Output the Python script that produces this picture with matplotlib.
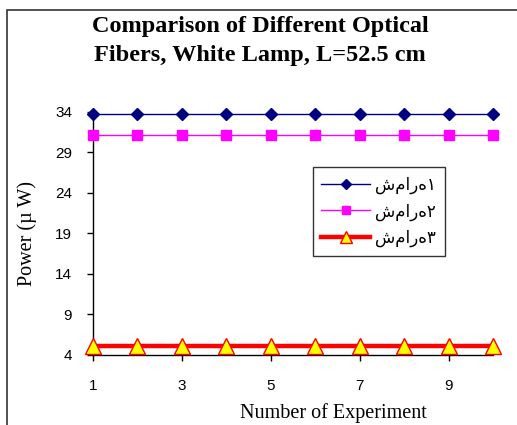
import matplotlib
matplotlib.use("Agg")
import matplotlib.pyplot as plt
from matplotlib.patches import Rectangle

# data
experiments = [1, 2, 3, 4, 5, 6, 7, 8, 9, 10]
fiber1 = [33.8, 33.8, 33.8, 33.8, 33.8, 33.8, 33.8, 33.8, 33.8, 33.8]
fiber2 = [31.2, 31.2, 31.2, 31.2, 31.2, 31.2, 31.2, 31.2, 31.2, 31.2]
fiber3 = [5.1, 5.1, 5.1, 5.1, 5.1, 5.1, 5.1, 5.1, 5.1, 5.1]
labels = ["شماره۱", "شماره۲", "شماره۳"]
xticks = [1, 3, 5, 7, 9]
yticks = [4, 9, 14, 19, 24, 29, 34]

W, H = 517, 425
fig = plt.figure(figsize=(W / 100, H / 100), dpi=100)

# outer chart border (right/bottom edges fall outside the picture)
fig.patches.append(Rectangle((7 / W, -0.05), 1.2, (H - 10) / H + 0.05,
                             transform=fig.transFigure, fill=False,
                             edgecolor='#333333', linewidth=1.2))

ax = fig.add_axes([93 / W, (H - 354.5) / H, 400 / W, 242.5 / H])

ax.plot(experiments, fiber1, color='#000080', linewidth=1, marker='D',
        markersize=6.5, label=labels[0], clip_on=False, zorder=4)
ax.plot(experiments, fiber2, color='#FF00FF', linewidth=1, marker='s',
        markersize=7.5, label=labels[1], clip_on=False, zorder=4)
ax.plot(experiments, fiber3, color='#FF0000', linewidth=3.2, marker='^',
        markersize=11, markerfacecolor='#FFFF00', markeredgecolor='#FF0000',
        markeredgewidth=1, label=labels[2], clip_on=False, zorder=4)

ax.set_xlim(1, 10)
ax.set_ylim(4, 34)
ax.set_xticks(xticks)
ax.set_yticks(yticks)
for s in ['top', 'right']:
    ax.spines[s].set_visible(False)
for s in ['left', 'bottom']:
    ax.spines[s].set_linewidth(1)
    ax.spines[s].set_color('black')

ax.tick_params(axis='y', direction='out', length=4, width=1, pad=11,
               labelsize=11)
ax.tick_params(axis='x', direction='out', length=4, width=1, pad=14,
               labelsize=11)
for t in ax.get_xticklabels() + ax.get_yticklabels():
    t.set_family('Liberation Sans')

ax.set_xlabel("Number of Experiment", family='Liberation Serif', fontsize=14.5)
ax.xaxis.set_label_coords(0.6, -0.2)
ax.set_ylabel("Power (µ W)", family='Liberation Serif', fontsize=14.5)
ax.yaxis.set_label_coords(-0.14, 0.5)

leg = ax.legend(loc='upper left', bbox_to_anchor=(0.55, 0.772),
                prop={'family': ['DejaVu Sans'], 'size': 12},
                frameon=True, fancybox=False, edgecolor='black',
                handlelength=2.9, borderpad=0.5, labelspacing=0.5,
                handletextpad=0.35, borderaxespad=0, markerscale=0.8)
leg.get_frame().set_linewidth(1)

fig.text(260 / W, 1 - 41 / H,
         "Comparison of Different Optical\nFibers, White Lamp, L=52.5 cm",
         ha='center', va='center', multialignment='center',
         family='Liberation Serif', fontweight='bold', fontsize=17.5,
         linespacing=1.45)

fig.savefig("out.png", dpi=100, facecolor='white')
